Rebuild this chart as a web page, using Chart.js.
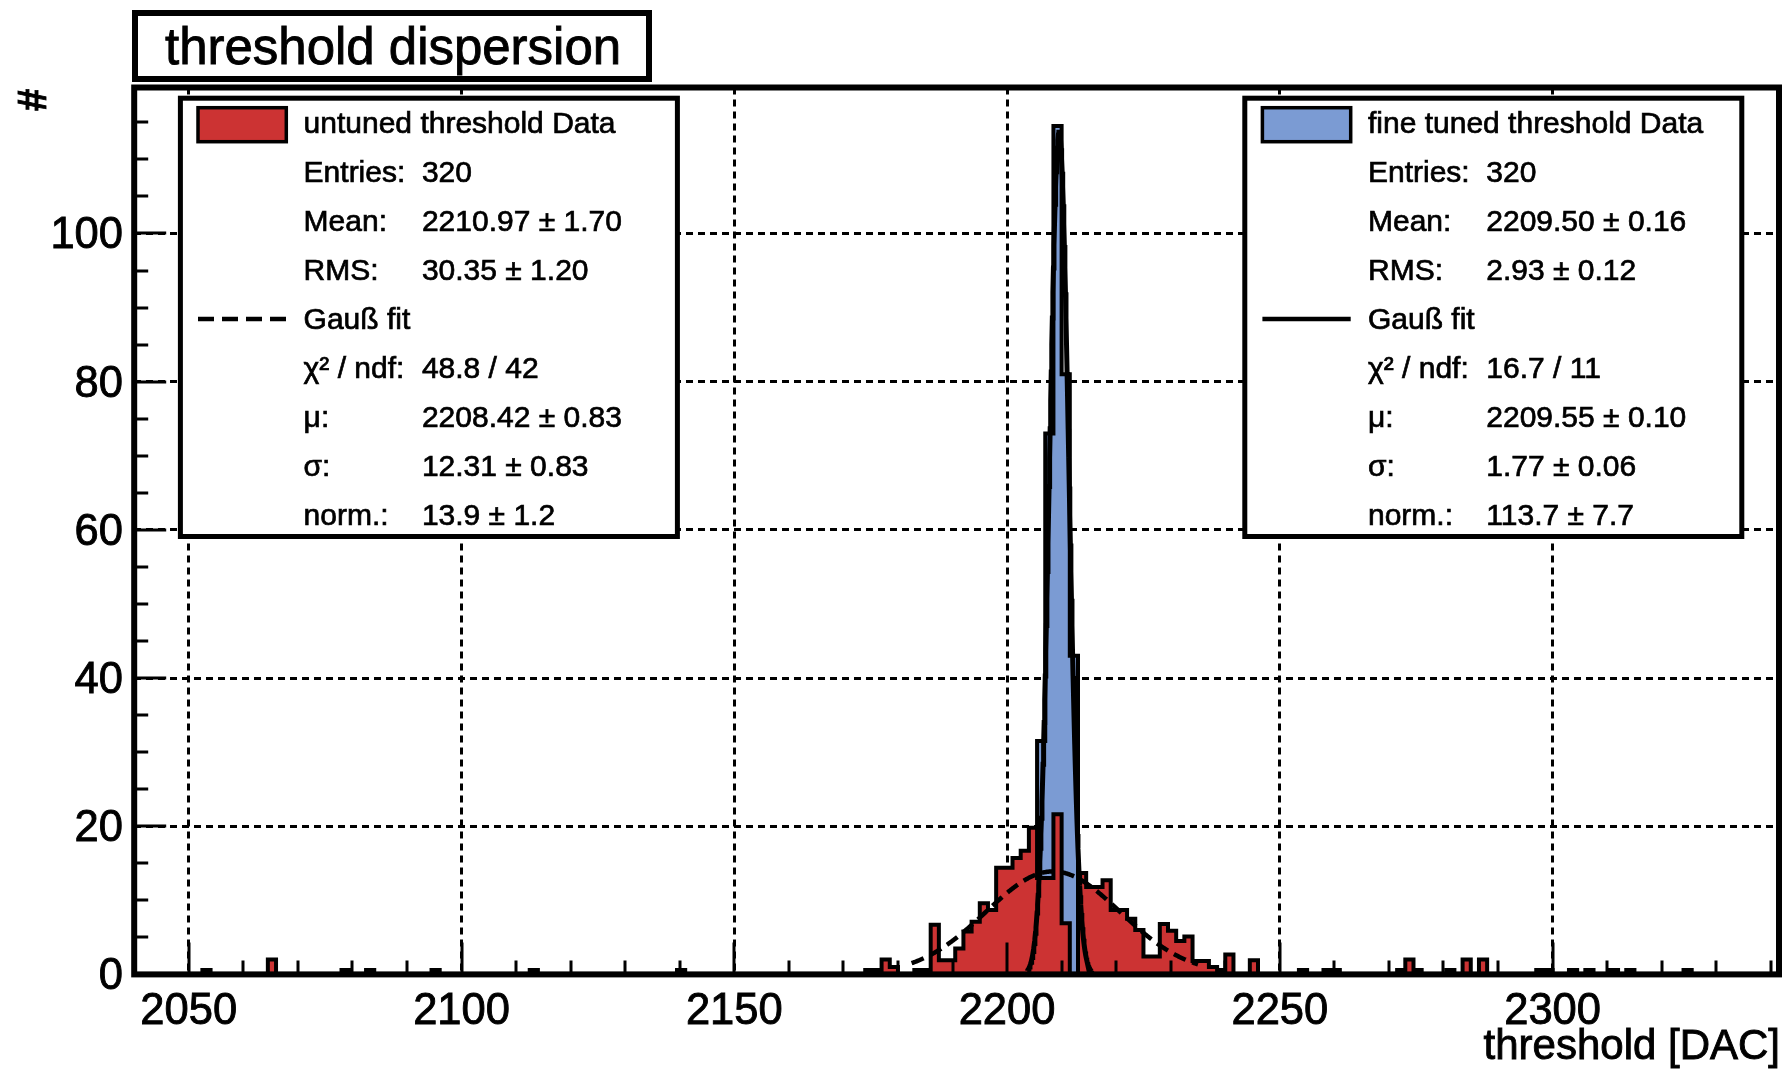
<!DOCTYPE html>
<html>
<head>
<meta charset="utf-8">
<title>threshold dispersion</title>
<script src="https://cdn.jsdelivr.net/npm/chart.js@4.4.1/dist/chart.umd.min.js"></script>
<style>
  html, body { margin: 0; padding: 0; background: #fff; }
  #plot { display: block; }
</style>
</head>
<body>
<canvas id="plot" width="1792" height="1070"></canvas>
<script>
/* ================================================================
   threshold dispersion – untuned vs. fine tuned pixel thresholds
   ROOT-style histogram: stepped outlines, Gauss fits, stat boxes
================================================================ */

const FONT = '"Liberation Sans", Arial, Helvetica, sans-serif';

/* ── binning (DAC) ── */
const BIN_LO    = 2039;
const BIN_WIDTH = 1.5;
const BIN_COUNT = 202;

/* ── untuned thresholds: left bin edge / content ── */
const untunedEdges = [
  2052.5, 2064.5, 2078, 2082.5, 2094.5, 2112.5, 2139.5,
  2174, 2175.5, 2177, 2178.5, 2183, 2184.5, 2186, 2187.5, 2189, 2190.5,
  2192, 2193.5, 2195, 2196.5, 2198, 2199.5, 2201, 2202.5, 2204, 2205.5,
  2207, 2208.5, 2210, 2213, 2214.5, 2216, 2217.5, 2219, 2220.5, 2222,
  2223.5, 2225, 2226.5, 2228, 2229.5, 2231, 2232.5, 2234, 2235.5, 2237,
  2238.5, 2240, 2244.5,
  2253.5, 2258, 2259.5, 2271.5, 2273, 2274.5, 2280.5, 2283.5, 2286.5,
  2297, 2298.5, 2303, 2306, 2310.5, 2313.5, 2324
];
const untunedCounts = [
  0.6, 2.0, 0.6, 0.6, 0.6, 0.6, 0.6,
  0.6, 0.6, 2.0, 1.0, 0.6, 0.6, 6.7, 1.9, 1.9, 3.5,
  5.8, 7.1, 9.6, 8.7, 14.4, 14.4, 15.7, 16.7, 19.8, 13.0,
  13.0, 21.6, 6.9, 13.7, 11.8, 11.8, 12.7, 8.7, 8.7, 7.5,
  6.0, 2.4, 2.4, 6.8, 5.9, 4.5, 5.1, 1.8, 1.8, 1.0,
  0.6, 2.7, 1.9,
  0.6, 0.6, 0.6, 0.6, 2.0, 0.6, 0.6, 2.0, 2.0,
  0.6, 0.6, 0.6, 0.6, 0.6, 0.6, 0.6
];

/* ── fine tuned thresholds ── */
const tunedEdges  = [2205.5, 2207, 2208.5, 2210, 2211.5];
const tunedCounts = [31.5, 73, 114.5, 81, 43];

/* ── Gauss fit results [norm, mu, sigma] and drawn range ── */
const untunedFitPar   = [13.9, 2208.42, 12.31];
const untunedFitRange = [2182.5, 2235];
const tunedFitPar     = [113.7, 2209.55, 1.77];
const tunedFitRange   = [2203.7, 2215.5];

/* ── axes ── */
const X_RANGE  = [2040, 2341.5];
const Y_RANGE  = [0, 119.7];
const X_LABELS = [2050, 2100, 2150, 2200, 2250, 2300];
const Y_LABELS = [0, 20, 40, 60, 80, 100];
const X_MINOR  = 10;
const Y_MINOR  = 5;

/* ── stat box texts ── */
const untunedStats = [['Entries:', '320'], ['Mean:', '2210.97 \u00b1 1.70'], ['RMS:', '30.35 \u00b1 1.20']];
const untunedFitRows = [['\u03c7\u00b2 / ndf:', '48.8 / 42'], ['\u03bc:', '2208.42 \u00b1 0.83'],
                        ['\u03c3:', '12.31 \u00b1 0.83'], ['norm.:', '13.9 \u00b1 1.2']];
const tunedStats = [['Entries:', '320'], ['Mean:', '2209.50 \u00b1 0.16'], ['RMS:', '2.93 \u00b1 0.12']];
const tunedFitRows = [['\u03c7\u00b2 / ndf:', '16.7 / 11'], ['\u03bc:', '2209.55 \u00b1 0.10'],
                      ['\u03c3:', '1.77 \u00b1 0.06'], ['norm.:', '113.7 \u00b1 7.7']];

const RED  = '#cc3333';
const BLUE = '#7b9bd3';

/* ── full bin table for a stepped outline ── */
function histPoints(edges, counts) {
  const pts = [];
  for (let i = 0; i < BIN_COUNT; i++) {
    const lo = BIN_LO + i * BIN_WIDTH;
    const j = edges.findIndex(e => Math.abs(e - lo) < 1e-6);
    pts.push({ x: lo, y: j < 0 ? 0 : counts[j] });
  }
  pts.push({ x: BIN_LO + BIN_COUNT * BIN_WIDTH, y: 0 });
  return pts;
}

/* ── fit curve from the fitted parameters ── */
function gaussPoints(par, range) {
  const [norm, mu, sigma] = par;
  const pts = [];
  for (let v = range[0]; v <= range[1] + 1e-9; v += 0.1) {
    pts.push({ x: v, y: norm * Math.exp(-0.5 * ((v - mu) / sigma) ** 2) });
  }
  return pts;
}

/* text with a hairline stroke so it keeps the heavy ROOT look */
function heavyText(ctx, s, x, y) {
  ctx.fillText(s, x, y);
  ctx.strokeText(s, x, y);
}

/* ── frame, inward ticks, labels, stat boxes ── */
const rootDecor = {
  id: 'rootDecor',
  afterDatasetsDraw(chart) {
    const { ctx, chartArea: a, scales: { x, y } } = chart;
    ctx.save();
    ctx.strokeStyle = '#000';
    ctx.lineWidth = 3;
    ctx.beginPath();
    for (let v = Math.ceil(x.min / X_MINOR) * X_MINOR; v <= x.max; v += X_MINOR) {
      const px = Math.round(x.getPixelForValue(v));
      const len = X_LABELS.includes(v) ? 32 : 14;
      ctx.moveTo(px, a.bottom);
      ctx.lineTo(px, a.bottom - len);
    }
    for (let v = 0; v <= y.max; v += Y_MINOR) {
      const py = Math.round(y.getPixelForValue(v));
      const len = Y_LABELS.includes(v) ? 32 : 14;
      ctx.moveTo(a.left, py);
      ctx.lineTo(a.left + len, py);
    }
    ctx.stroke();

    ctx.lineWidth = 6;
    ctx.strokeRect(a.left, a.top, a.right - a.left, a.bottom - a.top);
    ctx.restore();
  },
  afterDraw(chart) {
    const { ctx, chartArea: a, scales: { x, y } } = chart;
    ctx.save();
    ctx.fillStyle = '#000';
    ctx.strokeStyle = '#000';
    ctx.lineWidth = 0.9;

    // tick labels
    ctx.font = `43.5px ${FONT}`;
    ctx.textAlign = 'center';
    ctx.textBaseline = 'alphabetic';
    x.ticks.forEach(t => heavyText(ctx, String(t.value), x.getPixelForValue(t.value), 1023.5));
    ctx.textAlign = 'right';
    y.ticks.forEach(t => heavyText(ctx, String(t.value), 123, y.getPixelForValue(t.value) + 15));

    // axis titles
    ctx.font = `42px ${FONT}`;
    heavyText(ctx, 'threshold [DAC]', a.right + 1, 1059);
    ctx.save();
    ctx.translate(35, 100);
    ctx.rotate(-Math.PI / 2);
    ctx.textAlign = 'center';
    ctx.textBaseline = 'middle';
    ctx.font = `bold 40px ${FONT}`;
    heavyText(ctx, '#', 0, 0);
    ctx.restore();

    // title box
    ctx.fillStyle = '#fff';
    ctx.fillRect(135, 13, 514, 66);
    ctx.lineWidth = 6;
    ctx.strokeRect(135, 13, 514, 66);
    ctx.fillStyle = '#000';
    ctx.lineWidth = 0.9;
    ctx.font = `52px ${FONT}`;
    ctx.textAlign = 'left';
    ctx.save();
    ctx.translate(165, 64);
    ctx.scale(0.98, 1);
    heavyText(ctx, 'threshold dispersion', 0, 0);
    ctx.restore();

    drawStatBox(ctx, 180.4, RED, true, 'untuned threshold Data', untunedStats, untunedFitRows);
    drawStatBox(ctx, 1244.8, BLUE, false, 'fine tuned threshold Data', tunedStats, tunedFitRows);
    ctx.restore();
  }
};

function drawStatBox(ctx, left, fill, dashed, title, stats, fitRows) {
  const top = 98.2, w = 497, h = 438.3;
  const row = i => 132.7 + 49 * i;
  const labelX = left + 123.2;
  const valueX = left + 241.5;

  ctx.fillStyle = '#fff';
  ctx.fillRect(left, top, w, h);
  ctx.lineWidth = 5;
  ctx.strokeStyle = '#000';
  ctx.setLineDash([]);
  ctx.strokeRect(left, top, w, h);

  // fill swatch
  ctx.fillStyle = fill;
  ctx.fillRect(left + 17.6, 107.7, 88.3, 34);
  ctx.lineWidth = 3.5;
  ctx.strokeRect(left + 17.6, 107.7, 88.3, 34);

  // fit line swatch
  ctx.lineWidth = 4.5;
  ctx.setLineDash(dashed ? [16, 8] : []);
  ctx.beginPath();
  ctx.moveTo(left + 17.6, row(4) - 9.8);
  ctx.lineTo(left + 105.9, row(4) - 9.8);
  ctx.stroke();
  ctx.setLineDash([]);

  ctx.fillStyle = '#000';
  ctx.lineWidth = 0.7;
  ctx.font = `30px ${FONT}`;
  ctx.textAlign = 'left';
  ctx.textBaseline = 'alphabetic';
  heavyText(ctx, title, labelX, row(0));
  stats.forEach(([k, v], i) => {
    heavyText(ctx, k, labelX, row(1 + i));
    heavyText(ctx, v, valueX, row(1 + i));
  });
  heavyText(ctx, 'Gau\u00df fit', labelX, row(4));
  fitRows.forEach(([k, v], i) => {
    heavyText(ctx, k, labelX, row(5 + i));
    heavyText(ctx, v, valueX, row(5 + i));
  });
}

const histStyle = {
  stepped: 'before',
  pointRadius: 0,
  borderColor: '#000',
  borderWidth: 4,
  borderJoinStyle: 'miter',
  fill: 'origin',
  tension: 0,
};

new Chart(document.getElementById('plot'), {
  type: 'line',
  data: {
    datasets: [
      { label: 'Gau\u00df fit (fine tuned)', data: gaussPoints(tunedFitPar, tunedFitRange),
        borderColor: '#000', borderWidth: 5, pointRadius: 0, fill: false, order: 0 },
      { label: 'Gau\u00df fit (untuned)', data: gaussPoints(untunedFitPar, untunedFitRange),
        borderColor: '#000', borderWidth: 4.5, borderDash: [13, 7], pointRadius: 0, fill: false, order: 1 },
      { ...histStyle, label: 'untuned threshold Data', data: histPoints(untunedEdges, untunedCounts),
        backgroundColor: RED, order: 2 },
      { ...histStyle, label: 'fine tuned threshold Data', data: histPoints(tunedEdges, tunedCounts),
        backgroundColor: BLUE, order: 3 },
    ],
  },
  options: {
    responsive: false,
    animation: false,
    devicePixelRatio: 1,
    events: [],
    layout: { padding: { left: 134.2, right: 13, top: 87.5, bottom: 95.6 } },
    plugins: { legend: { display: false }, tooltip: { enabled: false } },
    scales: {
      x: {
        type: 'linear',
        min: X_RANGE[0], max: X_RANGE[1],
        ticks: { display: false },
        grid: { color: '#000', lineWidth: 3, drawTicks: false },
        border: { display: false, dash: [7, 5] },
        afterBuildTicks: s => { s.ticks = X_LABELS.map(v => ({ value: v })); },
        afterFit: s => { s.height = 0; },
      },
      y: {
        min: Y_RANGE[0], max: Y_RANGE[1],
        ticks: { display: false },
        grid: { color: '#000', lineWidth: 3, drawTicks: false },
        border: { display: false, dash: [7, 5] },
        afterBuildTicks: s => { s.ticks = Y_LABELS.map(v => ({ value: v })); },
        afterFit: s => { s.width = 0; },
      },
    },
  },
  plugins: [rootDecor],
});
</script>
</body>
</html>
